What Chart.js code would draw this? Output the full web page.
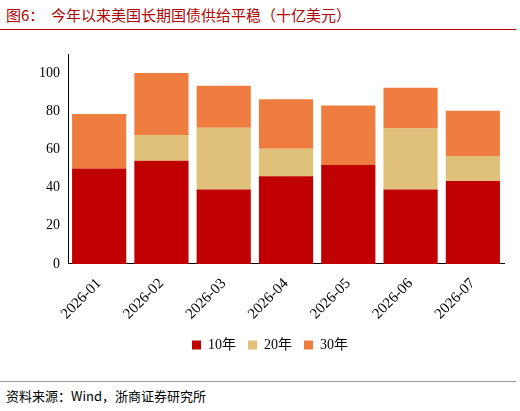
<!DOCTYPE html>
<html><head><meta charset="utf-8">
<script src="https://cdn.jsdelivr.net/npm/chart.js@4"></script>
<style>
body{margin:0;width:520px;height:411px;background:#fff;font-family:"Noto Sans CJK SC",serif;position:relative;overflow:hidden}
#title{position:absolute;left:6px;top:4px;font-size:15px;color:#B00000;}
#tline{position:absolute;left:0;top:29px;width:516px;border-top:1.5px solid #B00000}
#bline{position:absolute;left:0;top:381px;width:516px;border-top:1px solid #999}
#src{position:absolute;left:6px;top:386px;font-size:13px;color:#000;font-family:"Noto Sans CJK SC","Liberation Serif",serif}
#wrap{position:absolute;left:0;top:34px;width:516px;height:342px}
</style></head><body>
<div id="title">图6：&nbsp;&nbsp;今年以来美国长期国债供给平稳（十亿美元）</div>
<div id="tline"></div>
<div id="wrap"><canvas id="c"></canvas></div>
<div id="bline"></div>
<div id="src">资料来源：Wind，浙商证券研究所</div>
<script>
const categories = ['2026-01','2026-02','2026-03','2026-04','2026-05','2026-06','2026-07'];
const y10 = [50, 54, 39, 46, 52, 39, 43.4];
const y20 = [0, 13.6, 32.4, 14.4, 0, 31.9, 13.2];
const y30 = [28.6, 32.4, 22, 25.9, 31, 21.4, 23.6];
const yTicks = [0, 20, 40, 60, 80, 100];

new Chart(document.getElementById('c'), {
  type: 'bar',
  data: {
    labels: categories,
    datasets: [
      {label: '10年', data: y10, backgroundColor: '#C00000'},
      {label: '20年', data: y20, backgroundColor: '#E0C17A'},
      {label: '30年', data: y30, backgroundColor: '#EE7D3F'}
    ]
  },
  options: {
    responsive: true, maintainAspectRatio: false, animation: false,
    layout: {padding: {left: 36, right: 12, top: 20, bottom: 14}},
    datasets: {bar: {categoryPercentage: 0.87, barPercentage: 1}},
    plugins: {
      legend: {position: 'bottom', labels: {boxWidth: 9, boxHeight: 9, color: '#000',
        font: {size: 14, family: '"Liberation Serif","Noto Sans CJK SC"'}, padding: 12}},
      tooltip: {enabled: false}
    },
    scales: {
      x: {stacked: true, grid: {display: false, drawTicks: true},
        border: {color: '#000'},
        ticks: {color: '#000', maxRotation: 45, minRotation: 45,
          font: {size: 15, family: '"Liberation Serif"'}}},
      y: {stacked: true, min: 0, max: 110,
        afterBuildTicks: ax => { ax.ticks = yTicks.map(v => ({value: v})); },
        grid: {display: false, drawTicks: true, tickLength: 5},
        border: {color: '#000'},
        ticks: {color: '#000', font: {size: 14, family: '"Liberation Serif"'}}}
    }
  }
});
</script>
</body></html>
